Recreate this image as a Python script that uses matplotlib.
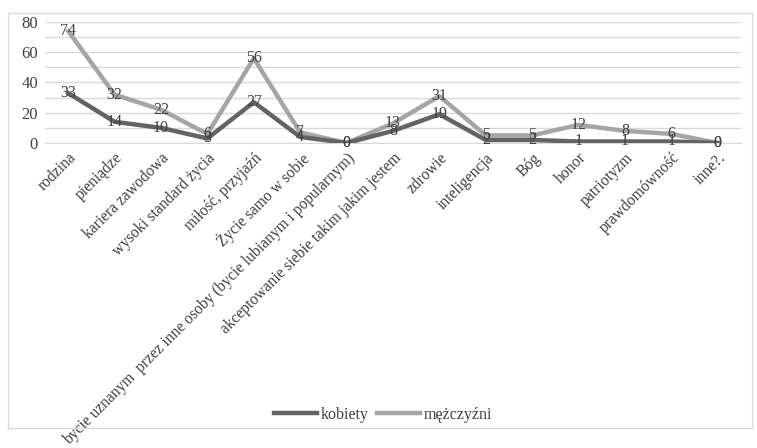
import matplotlib.pyplot as plt
from matplotlib.patches import Rectangle

plt.rcParams['font.family'] = ['Liberation Serif', 'DejaVu Serif']

kategorie = ['rodzina', 'pieniądze', 'kariera zawodowa', 'wysoki standard życia',
             'miłość, przyjaźń', 'Życie samo w sobie',
             'bycie uznanym  przez inne osoby (bycie lubianym i popularnym)',
             'akceptowanie siebie takim jakim jestem', 'zdrowie', 'inteligencja',
             'Bóg', 'honor', 'patriotyzm', 'prawdomówność', 'inne?.']
kobiety = [33, 14, 10, 3, 27, 4, 0, 8, 19, 2, 2, 1, 1, 1, 0]
mezczyzni = [74, 32, 22, 6, 56, 7, 0, 13, 31, 5, 5, 12, 8, 6, 0]

fig = plt.figure(figsize=(7.57, 4.48), dpi=100)
# ramka obszaru wykresu
fig.patches.append(Rectangle((8 / 757, 1 - 428 / 448), 744 / 757, 415 / 448,
                             transform=fig.transFigure, fill=False,
                             edgecolor='#D9D9D9', linewidth=1))
ax = fig.add_axes([45 / 757, 1 - 143 / 448, 696 / 757, 121 / 448])

x = list(range(len(kategorie)))
ax.plot(x, kobiety, color='#636363', linewidth=3.2, label='kobiety', zorder=3)
ax.plot(x, mezczyzni, color='#A5A5A5', linewidth=3.2, label='mężczyźni', zorder=2)

for i in x:
    ax.text(i, mezczyzni[i], str(mezczyzni[i]), ha='center', va='center',
            fontsize=11.5, color='#404040', zorder=4)
    ax.text(i, kobiety[i], str(kobiety[i]), ha='center', va='center',
            fontsize=11.5, color='#404040', zorder=4)

ax.set_xlim(-0.5, len(kategorie) - 0.5)
ax.set_ylim(0, 80)
ax.set_yticks(range(0, 81, 20))
ax.set_yticks(range(0, 81, 10), minor=True)
ax.grid(axis='y', which='both', color='#D9D9D9', linewidth=1)
ax.set_axisbelow(True)
ax.set_xticks(x)
ax.set_xticklabels(kategorie, rotation=45, ha='right', rotation_mode='anchor',
                   fontsize=11.2, color='#404040')
ax.tick_params(axis='y', which='both', length=0, pad=5, labelsize=12, labelcolor='#404040')
ax.tick_params(axis='x', length=0, pad=5)
for s in ['top', 'right', 'left']:
    ax.spines[s].set_visible(False)
ax.spines['bottom'].set_color('#D9D9D9')

fig.legend(loc='center', bbox_to_anchor=(383 / 757, 1 - 415 / 448), ncol=2,
           frameon=False, fontsize=11.5, handlelength=2.7, handletextpad=0.25,
           columnspacing=0.5, labelcolor='#404040')

plt.savefig('out.png', dpi=100)
